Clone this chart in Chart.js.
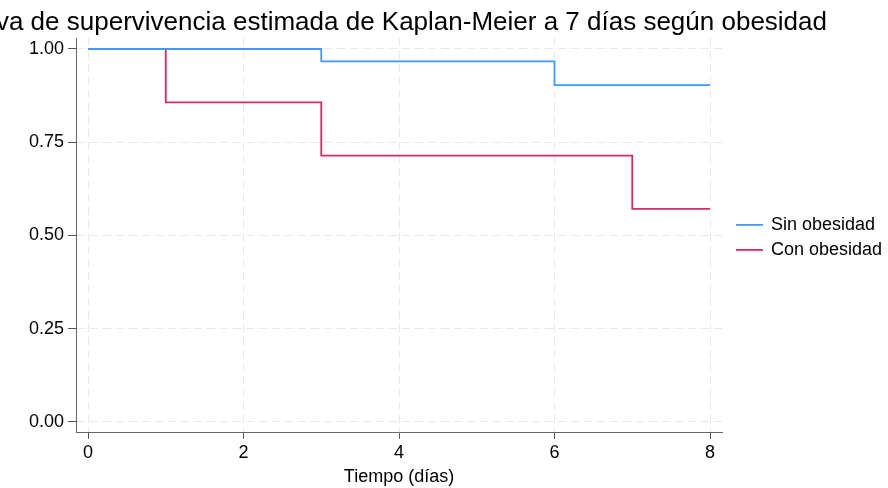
<!DOCTYPE html>
<html>
<head>
<meta charset="utf-8">
<script src="https://cdn.jsdelivr.net/npm/chart.js@4.4.1/dist/chart.umd.min.js"></script>
<style>
  html, body { margin: 0; padding: 0; background: #fff; }
  #wrap { width: 888px; height: 488px; position: relative; }
</style>
</head>
<body>
<div id="wrap"><canvas id="c" width="888" height="488"></canvas></div>
<script>
const titleText = "Curva de supervivencia estimada de Kaplan-Meier a 7 días según obesidad";
const xTitle = "Tiempo (días)";
const seriesNames = ["Sin obesidad", "Con obesidad"];
const sinTimes = [0, 3, 6, 8];
const sinSurv = [1.000, 0.967, 0.903, 0.903];
const conTimes = [0, 1, 3, 7, 8];
const conSurv = [1.000, 0.857, 0.714, 0.571, 0.571];
const xTicks = [0, 2, 4, 6, 8];
const yTicks = [0, 0.25, 0.5, 0.75, 1.0];

const colors = ["rgb(64,152,250)", "rgb(216,40,102)"];
const FONT = "'Liberation Sans', Arial, Helvetica, sans-serif";

const titlePlugin = {
  id: 'clippedTitle',
  afterDraw(chart) {
    const ctx = chart.ctx;
    ctx.save();
    ctx.font = "26px " + FONT;
    ctx.fillStyle = "#000";
    ctx.textAlign = "right";
    ctx.textBaseline = "alphabetic";
    ctx.fillText(titleText, 827, 30);
    ctx.restore();
  }
};

const legendPlugin = {
  id: 'sideLegend',
  afterDraw(chart) {
    const ctx = chart.ctx;
    const area = chart.chartArea;
    const ds = chart.data.datasets;
    const x0 = area.right + 14;
    const gap = 25;
    const yc = (area.top + area.bottom) / 2 + 2;
    const y0 = yc - gap * (ds.length - 1) / 2;
    ctx.save();
    ctx.font = "18px " + FONT;
    ctx.textBaseline = "middle";
    ctx.textAlign = "left";
    ds.forEach((d, i) => {
      const y = y0 + i * gap;
      ctx.strokeStyle = d.borderColor;
      ctx.lineWidth = d.borderWidth;
      ctx.beginPath();
      ctx.moveTo(x0, y);
      ctx.lineTo(x0 + 27, y);
      ctx.stroke();
      ctx.fillStyle = "#000";
      ctx.fillText(d.label, x0 + 35, y);
    });
    ctx.restore();
  }
};

const toPts = (xs, ys) => xs.map((x, i) => ({x: x, y: ys[i]}));

const gridOpts = (len) => ({ color: '#e8e8e8', lineWidth: 1, drawTicks: true, tickLength: len, tickColor: '#555', tickBorderDash: [], tickWidth: 1 });

new Chart(document.getElementById('c'), {
  type: 'line',
  data: {
    datasets: [
      { label: seriesNames[0], data: toPts(sinTimes, sinSurv), borderColor: colors[0], backgroundColor: colors[0], borderWidth: 1.8, stepped: 'before', pointRadius: 0, fill: false },
      { label: seriesNames[1], data: toPts(conTimes, conSurv), borderColor: colors[1], backgroundColor: colors[1], borderWidth: 1.8, stepped: 'before', pointRadius: 0, fill: false }
    ]
  },
  options: {
    responsive: false,
    animation: false,
    devicePixelRatio: 1,
    layout: { padding: { top: 38, left: 25, right: 166, bottom: 0 } },
    plugins: {
      title: { display: false },
      tooltip: { enabled: false },
      legend: { display: false }
    },
    scales: {
      x: {
        type: 'linear',
        min: -0.154, max: 8.154,
        afterBuildTicks(axis) { axis.ticks = xTicks.map(v => ({value: v})); },
        ticks: { font: { family: FONT, size: 18 }, color: '#000', padding: 3, maxRotation: 0, callback: v => String(v) },
        grid: gridOpts(6),
        border: { display: true, color: '#666', width: 1, dash: [8, 5] },
        title: { display: true, text: xTitle, font: { family: FONT, size: 18 }, color: '#000', padding: { top: 0, bottom: 0 } }
      },
      y: {
        type: 'linear',
        min: -0.0295, max: 1.0295,
        afterBuildTicks(axis) { axis.ticks = yTicks.map(v => ({value: v})); },
        ticks: { font: { family: FONT, size: 18 }, color: '#000', padding: 4, callback: v => v.toFixed(2) },
        grid: gridOpts(8),
        border: { display: true, color: '#666', width: 1, dash: [8, 5] }
      }
    }
  },
  plugins: [titlePlugin, legendPlugin]
});
</script>
</body>
</html>
